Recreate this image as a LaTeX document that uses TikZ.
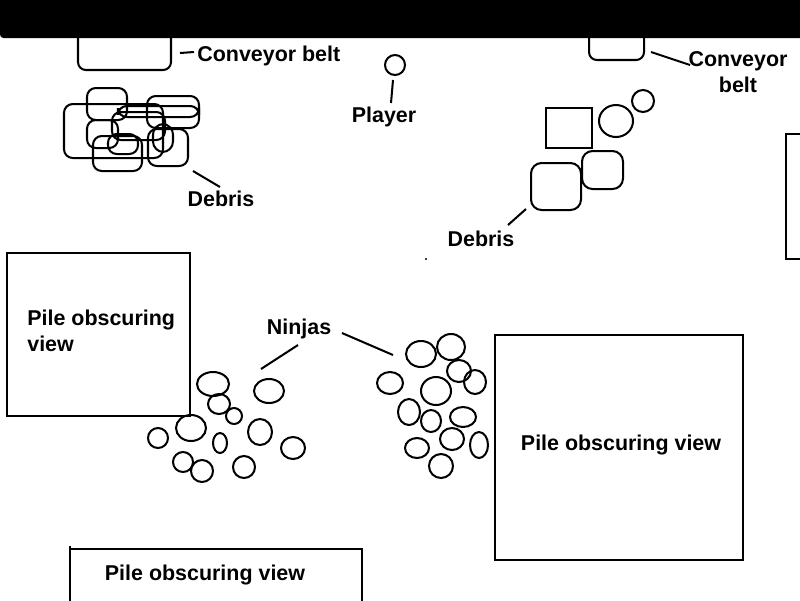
\documentclass[tikz,border=0pt]{standalone}
\usepackage{fontspec}
\setmainfont{Liberation Sans}
\usetikzlibrary{positioning}
\definecolor{ink}{HTML}{000000}
\tikzset{
  sketch/.style   = {draw=ink, line width=1.15pt},
  belt/.style     = {sketch, rounded corners=4.5pt},
  junk/.style     = {sketch, rounded corners=5pt},
  ninja/.style    = {sketch},
  pile/.style     = {sketch},
  tag/.style      = {font=\fontsize{12.2}{14.5}\selectfont\bfseries, text=ink, inner sep=0pt, align=center},
  leader/.style   = {draw=ink, line width=1.15pt},
}

\begin{document}
\begin{tikzpicture}[x=0.02cm, y=-0.02cm]
  \useasboundingbox (0,0) rectangle (800,600);

  % conveyor belts
  \draw[belt] (78,20) rectangle (171,70);
  \draw[belt] (589,20) rectangle (644,60);
  \fill[ink, rounded corners=2pt] (0,-5) rectangle (805,38);

  % debris, left heap
  \draw[junk] (64,104) rectangle (163,158);
  \draw[junk] (87,88) rectangle (127,120);
  \draw[junk] (147,96) rectangle (199,128);
  \draw[junk] (118,106) rectangle (199,117);
  \draw[junk] (87,120) rectangle (118,148);
  \draw[junk] (112,112) rectangle (165,140);
  \draw[junk] (93,136) rectangle (142,171);
  \draw[junk] (108,134) rectangle (138,154);
  \draw[junk, rounded corners=6pt] (153,124) rectangle (173,152);
  \draw[junk] (148,129) rectangle (188,166);

  % debris, right heap
  \draw[sketch] (546,108) rectangle (592,148);
  \draw[sketch] (616,121) ellipse [x radius=17, y radius=16];
  \draw[sketch] (643,101) circle [radius=11];
  \draw[junk, rounded corners=6pt] (531,163) rectangle (581,210);
  \draw[junk, rounded corners=6pt] (582,151) rectangle (623,189);
  \draw[pile] (805,134) -| (786,259) -- (805,259);
  \fill[ink] (426,259) circle [radius=1.2];

  % player
  \draw[sketch] (395,65) circle [radius=10];

  % piles
  \draw[pile] (7,253) rectangle (190,416);
  \draw[pile] (495,335) rectangle (743,560);
  \draw[pile] (70,546) -- (70,605) (70,549) -- (362,549) -- (362,605);

  % ninjas, left crowd
  \foreach \cx/\cy/\rx/\ry in {213/384/16/12, 219/404/11/10, 234/416/8/8,
      269/391/15/12, 191/428/15/13, 158/438/10/10, 220/443/7/10,
      260/432/12/13, 293/448/12/11, 183/462/10/10, 202/471/11/11, 244/467/11/11}
    \draw[ninja] (\cx,\cy) ellipse [x radius=\rx, y radius=\ry];

  % ninjas, right crowd
  \foreach \cx/\cy/\rx/\ry in {421/354/15/13, 451/347/14/13, 390/383/13/11,
      436/391/15/14, 459/371/12/11, 475/382/11/12, 409/412/11/13,
      431/421/10/11, 463/417/13/10, 452/439/12/11, 417/448/12/10,
      479/445/9/13, 441/466/12/12}
    \draw[ninja] (\cx,\cy) ellipse [x radius=\rx, y radius=\ry];

  % labels
  \node[tag, anchor=west] (beltL) at (197,56) {Conveyor belt};
  \node[tag] (beltR) at (738,72) {Conveyor\\belt};
  \node[tag] (player) at (384,117) {Player};
  \node[tag] (debrisL) at (221,199) {Debris};
  \node[tag] (debrisR) at (481,239) {Debris};
  \node[tag] (ninjas) at (299,329) {Ninjas};
  \node[tag, align=left, anchor=west] (pileL) at (27,331) {Pile obscuring\\view};
  \node[tag] (pileR) at (621,445) {Pile obscuring view};
  \node[tag] (pileB) at (205,575) {Pile obscuring view};

  % leader lines
  \coordinate (tBeltL) at (180,53);
  \coordinate (tBeltR) at (651,52);
  \coordinate (tPlayer) at (393,80);
  \coordinate (tDebrisL) at (193,171);
  \coordinate (tDebrisR) at (526,209);
  \coordinate (tNinjaL) at (261,369);
  \coordinate (tNinjaR) at (393,355);
  \draw[leader] (tBeltL) -- (194,52);
  \draw[leader] (tBeltR) -- (690,65);
  \draw[leader] (tPlayer) -- (391,103);
  \draw[leader] (tDebrisL) -- (220,187);
  \draw[leader] (tDebrisR) -- (508,225);
  \draw[leader] (tNinjaL) -- (298,345);
  \draw[leader] (tNinjaR) -- (342,333);
\end{tikzpicture}
\end{document}
